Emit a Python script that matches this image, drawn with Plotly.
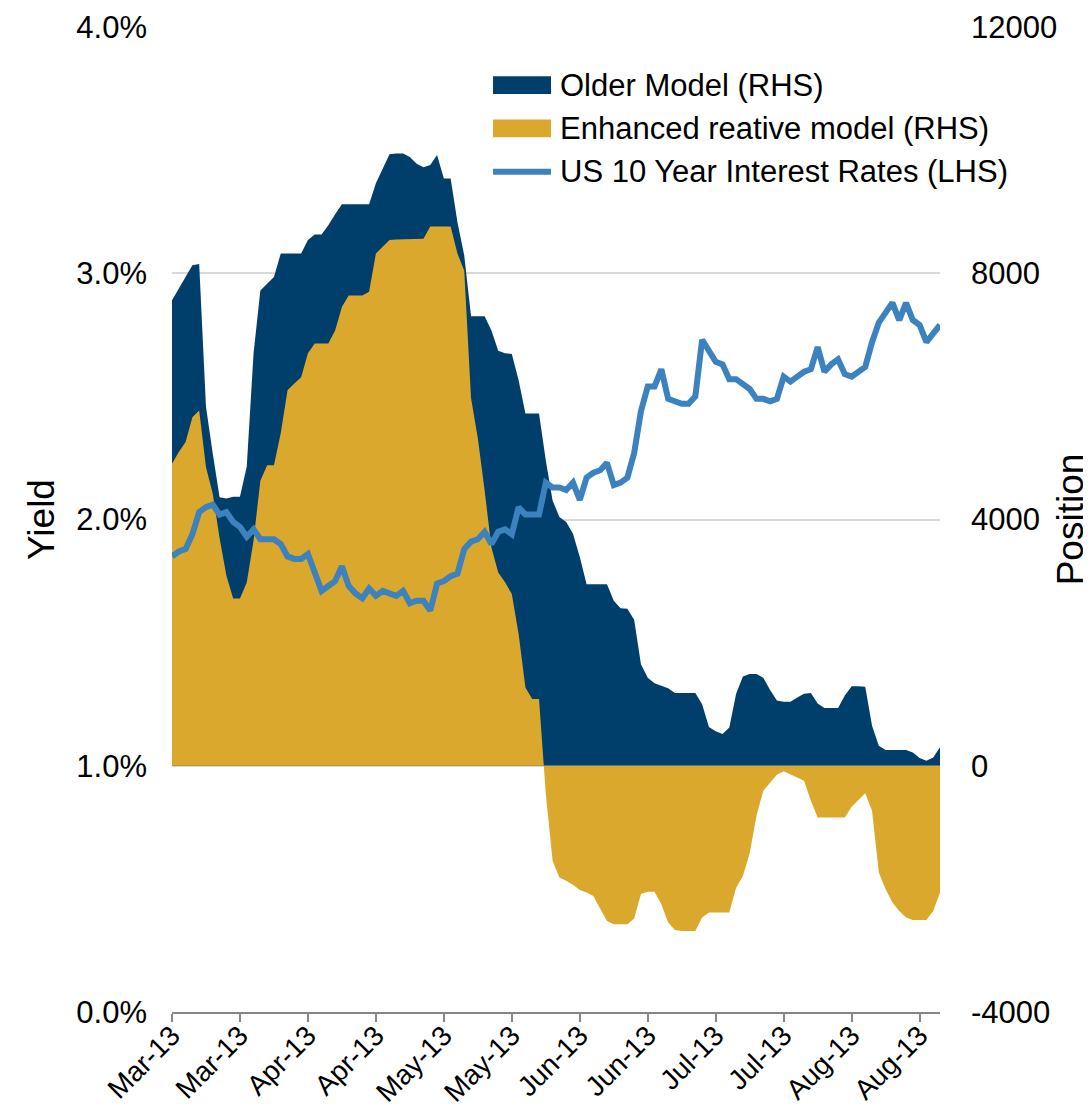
import plotly.graph_objects as go

# positions (contracts) on the right axis, one value per trading day
older_model = [
    7560, 7750, 7940, 8130, 8150, 5830, 5070, 4360, 4340, 4370,
    4370, 4860, 6700, 7720, 7830, 7940, 8320, 8320, 8320, 8320,
    8540, 8630, 8630, 8780, 8960, 9120, 9120, 9120, 9120, 9120,
    9460, 9690, 9935, 9945, 9945, 9890, 9780, 9720, 9760, 9920,
    9540, 9540, 8830, 8290, 7300, 7300, 7300, 7070, 6740, 6700,
    6690, 6260, 5720, 5720, 5720, 4960, 4310, 4040, 3960, 3770,
    3390, 2950, 2950, 2950, 2950, 2680, 2560, 2550, 2370, 1650,
    1430, 1340, 1300, 1260, 1180, 1180, 1180, 1180, 1000, 630,
    560, 515, 620, 1170, 1450, 1490, 1490, 1430, 1230, 1060,
    1040, 1040, 1110, 1170, 1180, 1010, 940, 940, 940, 1140,
    1290, 1290, 1285, 650, 325, 255, 255, 255, 255, 215,
    125, 80, 135, 300,
]
enhanced_model = [
    4905, 5095, 5260, 5660, 5770, 4850, 4420, 3700, 3090, 2715,
    2715, 2975, 3660, 4630, 4880, 4880, 5400, 6100, 6210, 6310,
    6700, 6860, 6860, 6860, 7070, 7450, 7640, 7640, 7640, 7700,
    8320, 8430, 8540, 8550, 8550, 8550, 8550, 8560, 8760, 8760,
    8760, 8760, 8320, 8040, 5970, 5320, 4470, 3545, 3140, 2980,
    2790, 2140, 1270, 1085, 1085, -455, -1545, -1815, -1870, -1935,
    -2020, -2060, -2115, -2315, -2520, -2575, -2575, -2575, -2480, -2085,
    -2045, -2045, -2250, -2545, -2670, -2685, -2685, -2685, -2465, -2385,
    -2385, -2385, -2385, -1980, -1790, -1420, -810, -405, -270, -145,
    -90, -145, -200, -245, -570, -840, -840, -840, -840, -840,
    -665, -555, -445, -730, -1735, -2005, -2220, -2360, -2465, -2505,
    -2505, -2505, -2360, -2060,
]
# US 10 year yield (%) on the left axis
us10y = [
    1.85, 1.87, 1.88, 1.94, 2.03, 2.05, 2.06, 2.02, 2.03, 1.99,
    1.97, 1.93, 1.96, 1.92, 1.92, 1.92, 1.90, 1.85, 1.84, 1.84,
    1.86, 1.78, 1.71, 1.73, 1.75, 1.81, 1.73, 1.70, 1.68, 1.72,
    1.69, 1.71, 1.70, 1.69, 1.71, 1.66, 1.67, 1.67, 1.63, 1.74,
    1.75, 1.77, 1.78, 1.88, 1.91, 1.92, 1.95, 1.90, 1.95, 1.96,
    1.94, 2.05, 2.02, 2.02, 2.02, 2.15, 2.13, 2.13, 2.12, 2.15,
    2.08, 2.17, 2.19, 2.20, 2.23, 2.14, 2.15, 2.17, 2.27, 2.44,
    2.54, 2.54, 2.61, 2.49, 2.48, 2.47, 2.47, 2.50, 2.73, 2.69,
    2.64, 2.63, 2.57, 2.57, 2.55, 2.53, 2.49, 2.49, 2.48, 2.49,
    2.58, 2.56, 2.58, 2.60, 2.61, 2.70, 2.60, 2.63, 2.65, 2.59,
    2.58, 2.60, 2.62, 2.72, 2.80, 2.84, 2.88, 2.81, 2.88, 2.81,
    2.79, 2.72, 2.76, 2.79,
]
tick_labels = [
    "Mar-13", "Mar-13", "Apr-13", "Apr-13", "May-13", "May-13",
    "Jun-13", "Jun-13", "Jul-13", "Jul-13", "Aug-13", "Aug-13",
]
position_ticks = [-4000, 0, 4000, 8000, 12000]
series_names = [
    "Older Model (RHS)",
    "Enhanced reative model (RHS)",
    "US 10 Year Interest Rates (LHS)",
]

NAVY = "#003F6B"
GOLD = "#DAA82C"
BLUE = "#3C82BE"
GRID = "#D9D9D9"
AXIS = "#868686"
FONT = "Liberation Sans, Arial, sans-serif"
FS = 31

x = list(range(len(us10y)))
tick_step = 10

fig = go.Figure()
# areas on the base axis (drawn first), line on the overlaying axis (on top)
fig.add_trace(go.Scatter(
    x=x, y=older_model, name=series_names[0], yaxis="y",
    fill="tozeroy", fillcolor=NAVY, mode="lines",
    line=dict(width=0, color=NAVY), showlegend=False,
))
fig.add_trace(go.Scatter(
    x=x, y=enhanced_model, name=series_names[1], yaxis="y",
    fill="tozeroy", fillcolor=GOLD, mode="lines",
    line=dict(width=0, color=GOLD), showlegend=False,
))
fig.add_trace(go.Scatter(
    x=x, y=us10y, name=series_names[2], yaxis="y2",
    mode="lines", line=dict(width=6, color=BLUE), showlegend=False,
))

# hand-made legend to get the wide Excel-style swatches
rows_y = [0.941, 0.897, 0.853]
sw_x0, sw_x1, txt_x = 0.418, 0.4935, 0.503
fig.add_shape(type="rect", xref="paper", yref="paper", x0=sw_x0, x1=sw_x1,
              y0=rows_y[0] - 0.009, y1=rows_y[0] + 0.009,
              fillcolor=NAVY, line=dict(width=0))
fig.add_shape(type="rect", xref="paper", yref="paper", x0=sw_x0, x1=sw_x1,
              y0=rows_y[1] - 0.009, y1=rows_y[1] + 0.009,
              fillcolor=GOLD, line=dict(width=0))
fig.add_shape(type="line", xref="paper", yref="paper", x0=sw_x0, x1=sw_x1,
              y0=rows_y[2], y1=rows_y[2], line=dict(width=6, color=BLUE))
for name, ry in zip(series_names, rows_y):
    fig.add_annotation(text=name, xref="paper", yref="paper", x=txt_x, y=ry,
                       xanchor="left", yanchor="middle", showarrow=False,
                       font=dict(size=FS, color="#000000", family=FONT))

# the page adds an 8px body margin, so the figure is sized to fit the window
fig.update_layout(
    width=1083, height=1105,
    margin=dict(l=164, r=151, t=19, b=101),
    paper_bgcolor="white", plot_bgcolor="white",
    font=dict(family=FONT, size=FS, color="#000000"),
    xaxis=dict(
        range=[0, len(x) - 1], automargin=False,
        tickvals=list(range(0, len(x), tick_step))[:len(tick_labels)],
        ticktext=tick_labels, tickangle=-45,
        ticks="outside", ticklen=8, tickwidth=2, tickcolor=AXIS,
        showline=True, linecolor=AXIS, linewidth=2,
        showgrid=False, zeroline=False,
        ticklabelstandoff=-14,
        tickfont=dict(size=28),
    ),
    yaxis=dict(
        side="right", range=[-4000, 12000], automargin=False,
        tickvals=position_ticks, ticktext=[str(v) for v in position_ticks],
        showgrid=True, gridcolor=GRID, gridwidth=1.5, zeroline=False,
        showline=False, ticklabelstandoff=30,
        title=dict(text="Position", standoff=8),
    ),
    yaxis2=dict(
        overlaying="y", side="left", range=[0, 4], dtick=1,
        tickformat=".1f", ticksuffix="%", automargin=False,
        showgrid=False, zeroline=False, showline=False,
        ticklabelstandoff=24,
        title=dict(text="Yield", standoff=10),
    ),
)

fig.write_html("out.html")
